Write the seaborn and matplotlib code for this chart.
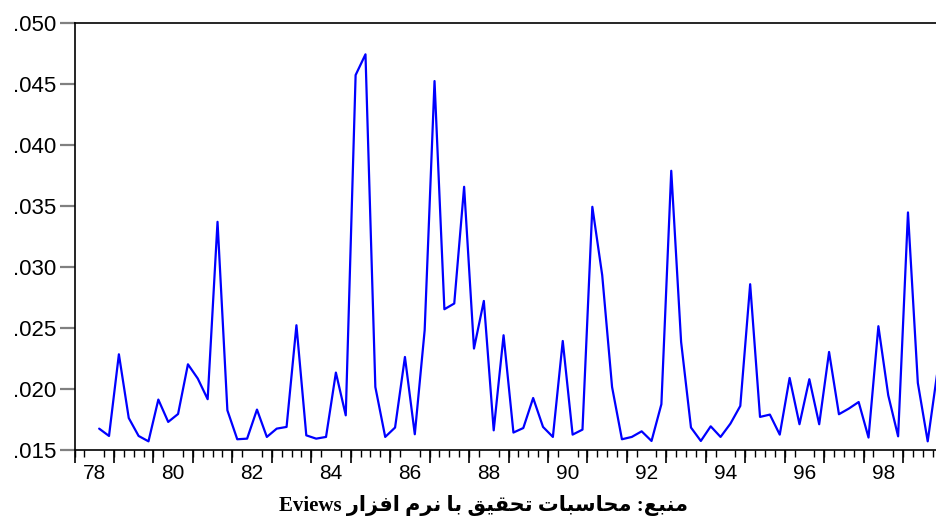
import numpy as np
import pandas as pd
import matplotlib
matplotlib.use("Agg")
import matplotlib.pyplot as plt
from matplotlib.ticker import FixedLocator, FuncFormatter
import seaborn as sns

# quarterly series, first observation 78Q3
start_year = 78
start_quarter = 3
values = [
    0.01675, 0.01615, 0.02284, 0.01762, 0.01615, 0.01571, 0.01913, 0.01730,
    0.01795, 0.02202, 0.02085, 0.01916, 0.03369,
    0.01825, 0.01588, 0.01593, 0.01831, 0.01607, 0.01675, 0.01689, 0.02522,
    0.01620, 0.01593, 0.01607, 0.02134, 0.01784, 0.04571,
    0.04741, 0.02016, 0.01607, 0.01684, 0.02262, 0.01629, 0.02481, 0.04522,
    0.02653, 0.02700, 0.03656, 0.02331, 0.02721, 0.01661,
    0.02440, 0.01643, 0.01680, 0.01926, 0.01689, 0.01607, 0.02393, 0.01626,
    0.01667, 0.03492, 0.02932, 0.02016, 0.01588, 0.01607,
    0.01653, 0.01574, 0.01875, 0.03787, 0.02385, 0.01684, 0.01574, 0.01694,
    0.01607, 0.01716, 0.01861, 0.02858, 0.01771, 0.01790, 0.01626,
    0.02090, 0.01711, 0.02080, 0.01711, 0.02303, 0.01793, 0.01839, 0.01893,
    0.01602, 0.02514, 0.01948, 0.01612, 0.03446, 0.02049, 0.01571, 0.02150,
]
y_ticks = [0.015, 0.020, 0.025, 0.030, 0.035, 0.040, 0.045, 0.050]
x_label_years = [78, 80, 82, 84, 86, 88, 90, 92, 94, 96, 98]
caption_fa = "منبع: محاسبات تحقیق با نرم افزار"
caption_en = "Eviews"

# observation i sits in the middle of its quarter
t = start_year + (start_quarter - 1) / 4 + 0.125 + 0.25 * np.arange(len(values))
df = pd.DataFrame({"t": t, "v": values})

# tiny Persian shaper (presentation forms + visual order) since matplotlib has no bidi
FORMS = {
    "ا": ("\uFE8D", "\uFE8E", None, None),
    "ب": ("\uFE8F", "\uFE90", "\uFE91", "\uFE92"),
    "ت": ("\uFE95", "\uFE96", "\uFE97", "\uFE98"),
    "ح": ("\uFEA1", "\uFEA2", "\uFEA3", "\uFEA4"),
    "ر": ("\uFEAD", "\uFEAE", None, None),
    "ز": ("\uFEAF", "\uFEB0", None, None),
    "س": ("\uFEB1", "\uFEB2", "\uFEB3", "\uFEB4"),
    "ع": ("\uFEC9", "\uFECA", "\uFECB", "\uFECC"),
    "ف": ("\uFED1", "\uFED2", "\uFED3", "\uFED4"),
    "ق": ("\uFED5", "\uFED6", "\uFED7", "\uFED8"),
    "م": ("\uFEE1", "\uFEE2", "\uFEE3", "\uFEE4"),
    "ن": ("\uFEE5", "\uFEE6", "\uFEE7", "\uFEE8"),
    "ی": ("\uFBFC", "\uFBFD", "\uFEF3", "\uFEF4"),
}


def shape(s):
    out = []
    for i, c in enumerate(s):
        if c not in FORMS:
            out.append(c)
            continue
        prev = s[i - 1] if i > 0 else ""
        nxt = s[i + 1] if i + 1 < len(s) else ""
        jp = prev in FORMS and FORMS[prev][2] is not None
        jn = FORMS[c][2] is not None and nxt in FORMS
        iso, fin, ini, med = FORMS[c]
        out.append(med if (jp and jn) else fin if jp else ini if jn else iso)
    return "".join(out)


sns.set_theme(style="white")
plt.rcParams["font.family"] = ["Liberation Sans", "DejaVu Sans"]

W, H = 936, 523
fig = plt.figure(figsize=(W / 100, H / 100), dpi=100)
x0, x1 = 74.5, 942.5
y_top, y_bot = 22.7, 450
ax = fig.add_axes([x0 / W, (H - y_bot) / H, (x1 - x0) / W, (y_bot - y_top) / H])

sns.lineplot(data=df, x="t", y="v", color="#0000ff", linewidth=1.6, ax=ax)

ax.set_xlim(78, 100)
ax.set_ylim(0.015, 0.050)
ax.set_xlabel("")
ax.set_ylabel("")

for side in ["left", "bottom", "top"]:
    ax.spines[side].set_visible(True)
    ax.spines[side].set_color("black")
    ax.spines[side].set_linewidth(1.2)
ax.spines["right"].set_visible(False)

ax.yaxis.set_major_locator(FixedLocator(y_ticks))
ax.yaxis.set_major_formatter(FuncFormatter(lambda v, p: f"{v:.3f}"[1:]))
ax.tick_params(axis="y", direction="out", length=11, width=1.6, color="#808080",
               pad=2, labelsize=16, labelcolor="black", left=True)

# labels sit in the middle of the year, quarter ticks below, year ticks longer
ax.xaxis.set_major_locator(FixedLocator([yr + 0.5 for yr in x_label_years]))
ax.set_xticklabels([str(yr) for yr in x_label_years])
ax.xaxis.set_minor_locator(FixedLocator(np.arange(78, 100.01, 0.25)))
ax.tick_params(axis="x", which="major", length=0, pad=10, labelsize=15,
               labelcolor="black", bottom=True)
ax.tick_params(axis="x", which="minor", direction="out", length=5, width=1,
               color="black", bottom=True)

sec = ax.secondary_xaxis("bottom")
sec.xaxis.set_major_locator(FixedLocator(np.arange(78, 101, 1)))
sec.tick_params(axis="x", direction="out", length=9, width=1.2, color="black",
                labelbottom=False)
sec.spines["bottom"].set_visible(False)

caption = caption_en + " " + shape(caption_fa)[::-1]
fig.text(483 / W, 1 - 506 / H, caption, ha="center", va="center", color="black",
         fontsize=15, fontweight="bold", family=["Liberation Serif", "DejaVu Sans"])

fig.savefig("out.png", dpi=100)
